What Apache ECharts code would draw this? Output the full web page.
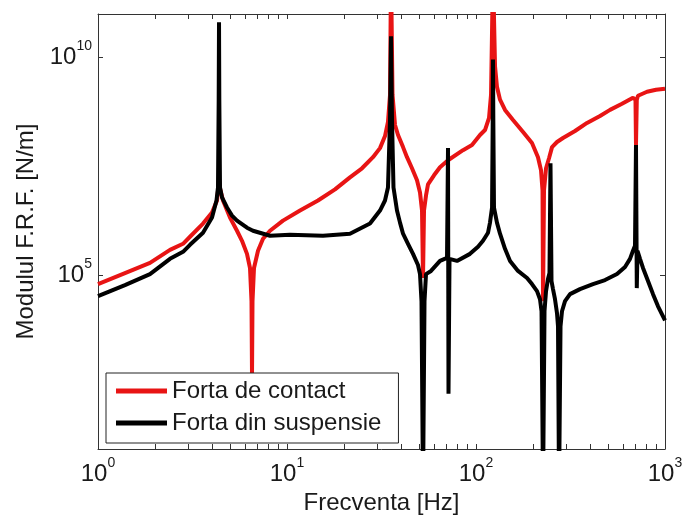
<!DOCTYPE html>
<html><head><meta charset="utf-8">
<script src="https://cdn.jsdelivr.net/npm/echarts@6/dist/echarts.min.js"></script>
<style>html,body{margin:0;padding:0;background:#fff}#c{width:683px;height:515px}</style>
</head><body><div id="c"></div>
<script>
const seriesNames = ['Forta de contact', 'Forta din suspensie'];
const seriesColors = ['#e81414', '#000000'];

const freqContact = [1.000, 1.389, 1.884, 2.404, 2.818, 3.067, 3.594, 4.011, 4.263, 4.342, 4.368, 4.421, 4.586, 4.993, 5.438, 5.780, 6.142, 6.371, 6.489, 6.529, 6.569, 6.690, 7.024, 7.465, 8.131, 9.524, 11.72, 14.59, 17.95, 21.54, 24.94, 28.51, 31.05, 33.00, 34.22, 35.08, 35.51, 36.16, 37.28, 38.68, 41.11, 43.14, 45.85, 48.74, 50.55, 51.80, 52.44, 53.08, 54.39, 55.72, 59.95, 64.50, 71.11, 85.35, 95.24, 105.0, 111.6, 117.2, 120.1, 123.0, 126.1, 129.1, 134.0, 142.4, 157.0, 177.4, 197.8, 212.8, 220.8, 224.9, 226.3, 229.0, 234.7, 243.4, 252.5, 268.3, 288.6, 334.1, 386.7, 453.0, 511.7, 592.3, 677.1, 698.0, 702.3, 709.2, 719.5, 803.3, 896.4, 1000];
const modContact = [6.19e4, 1.11e5, 1.90e5, 3.79e5, 5.22e5, 7.58e5, 1.52e6, 2.72e6, 5.16e6, 1.15e7, 1.67e7, 9.79e6, 5.16e6, 2.09e6, 1.04e6, 6.12e5, 3.06e5, 1.45e5, 2.50e4, 511, 2.50e4, 1.45e5, 3.60e5, 6.81e5, 1.04e6, 1.78e6, 3.03e6, 5.16e6, 9.29e6, 1.76e7, 2.84e7, 5.11e7, 8.26e7, 1.56e8, 3.30e8, 1.39e9, 1e12, 1.39e9, 2.81e8, 1.65e8, 8.71e7, 5.11e7, 2.84e7, 1.50e7, 7.91e6, 3.03e6, 8.53e4, 3.03e6, 6.74e6, 1.21e7, 1.96e7, 3.00e7, 4.35e7, 7.42e7, 9.68e7, 1.65e8, 2.15e8, 4.08e8, 1.39e9, 1e12, 6.19e9, 2.13e9, 1.07e9, 6.25e8, 3.67e8, 1.94e8, 1.08e8, 5.11e7, 2.55e7, 8.80e6, 2.50e4, 8.80e6, 2.84e7, 4.84e7, 8.71e7, 1.14e8, 1.41e8, 2.04e8, 3.13e8, 4.54e8, 6.25e8, 8.61e8, 1.19e9, 1.07e9, 9.68e7, 1.07e9, 1.32e9, 1.63e9, 1.82e9, 1.92e9];

const freqSusp = [1.000, 1.389, 1.884, 2.404, 2.818, 3.067, 3.594, 4.011, 4.236, 4.314, 4.351, 4.368, 4.384, 4.421, 4.530, 4.814, 5.117, 5.438, 6.142, 6.607, 8.131, 10.37, 15.50, 21.54, 27.49, 31.05, 33.00, 34.22, 35.08, 35.51, 35.94, 36.60, 38.19, 39.62, 41.11, 43.67, 46.42, 49.33, 50.55, 51.48, 52.44, 53.40, 54.39, 57.81, 64.50, 70.25, 71.11, 71.54, 72.42, 79.34, 92.96, 102.5, 108.9, 115.8, 118.6, 121.6, 122.6, 123.0, 123.5, 124.5, 129.1, 134.0, 142.4, 151.4, 166.8, 186.2, 197.8, 210.3, 218.1, 222.2, 226.3, 230.4, 234.7, 240.4, 244.8, 247.8, 250.9, 255.5, 261.8, 268.3, 271.6, 275.0, 280.0, 285.1, 295.8, 314.4, 355.0, 415.9, 481.6, 557.2, 614.3, 652.9, 677.1, 693.8, 702.3, 709.2, 715.2, 737.6, 764.9, 813.0, 864.2, 918.5, 1000];
const modSusp = [3.27e4, 5.87e4, 1.05e5, 2.35e5, 3.41e5, 4.94e5, 9.38e5, 2.09e6, 5.16e6, 1.03e7, 1.07e9, 6.46e10, 1.07e9, 1.03e7, 6.06e6, 3.56e6, 2.32e6, 1.78e6, 1.22e6, 1.04e6, 8.00e5, 8.43e5, 8.00e5, 8.89e5, 1.52e6, 3.03e6, 5.16e6, 1.03e7, 3.67e8, 3.06e10, 3.67e8, 1.03e7, 3.03e6, 1.60e6, 8.89e5, 5.22e5, 3.06e5, 1.70e5, 1.05e5, 2.50e4, 1, 2.50e4, 1.05e5, 1.24e5, 2.11e5, 2.48e5, 8.26e7, 186, 2.35e5, 2.11e5, 3.06e5, 4.45e5, 6.12e5, 9.38e5, 1.60e6, 3.56e6, 3.67e8, 9.0e9, 3.67e8, 3.56e6, 1.60e6, 8.89e5, 4.00e5, 2.11e5, 1.24e5, 8.53e4, 6.19e4, 4.27e4, 2.78e4, 1.47e4, 1, 1.47e4, 4.27e4, 8.08e4, 1.11e5, 3.71e7, 7.26e4, 4.74e4, 2.78e4, 1.32e4, 6.59e3, 1, 6.59e3, 1.47e4, 2.50e4, 3.63e4, 4.74e4, 6.19e4, 7.66e4, 1.05e5, 1.53e5, 2.35e5, 3.60e5, 4.69e5, 9.68e7, 5.00e4, 3.60e5, 2.35e5, 1.45e5, 7.26e4, 3.63e4, 1.91e4, 9.08e3];

const xTickValues = [1,2,3,4,5,6,7,8,9,10,20,30,40,50,60,70,80,90,100,200,300,400,500,600,700,800,900,1000];
const xLabelValues = [1, 10, 100, 1000];
const yTickValues = [1e5, 1e10];
const xTitle = 'Frecventa [Hz]';
const yTitle = 'Modulul F.R.F. [N/m]';

const FONT = '"Liberation Sans", Arial, sans-serif';
const AX = '#333';
const pair = (xs, ys) => xs.map((x, i) => [x, ys[i]]);
const powLabel = v => '{b|10}{s|' + Math.round(Math.log10(v)) + '}';
const rich = {
  b: {fontFamily: FONT, fontSize: 24, lineHeight: 36, color: '#1a1a1a'},
  s: {fontFamily: FONT, fontSize: 14, lineHeight: 14, verticalAlign: 'top', color: '#1a1a1a'}
};

function xAxisCfg(pos, showLabel) {
  return {
    type: 'log', logBase: 10, min: 1, max: 1000, position: pos,
    name: showLabel ? xTitle : '', nameLocation: 'middle', nameGap: 42,
    nameTextStyle: {fontFamily: FONT, fontSize: 24, color: '#1a1a1a'},
    axisLine: {show: true, onZero: false, lineStyle: {color: AX, width: 1}},
    axisTick: {show: true, inside: true, length: 5, customValues: xTickValues, lineStyle: {color: AX, width: 1}},
    axisLabel: {show: showLabel, margin: 7, customValues: xLabelValues, formatter: powLabel, rich: rich},
    splitLine: {show: false}, minorTick: {show: false}
  };
}
function yAxisCfg(pos, showLabel) {
  return {
    type: 'log', logBase: 10, min: 10, max: 1e11, position: pos,
    name: showLabel ? yTitle : '', nameLocation: 'middle', nameGap: 60,
    nameTextStyle: {fontFamily: FONT, fontSize: 24, color: '#1a1a1a'},
    axisLine: {show: true, onZero: false, lineStyle: {color: AX, width: 1}},
    axisTick: {show: true, inside: true, length: 5, customValues: yTickValues, lineStyle: {color: AX, width: 1}},
    axisLabel: {show: showLabel, margin: 6, customValues: yTickValues, formatter: powLabel, rich: rich},
    splitLine: {show: false}, minorTick: {show: false}
  };
}

const chart = echarts.init(document.getElementById('c'), null, {renderer: 'canvas'});
chart.setOption({
  animation: false,
  backgroundColor: '#fff',
  grid: {left: 98, right: 18, top: 14, bottom: 66, containLabel: false, outerBoundsMode: 'none'},
  xAxis: [xAxisCfg('bottom', true), xAxisCfg('top', false)],
  yAxis: [yAxisCfg('left', true), yAxisCfg('right', false)],
  legend: {
    orient: 'vertical', left: 106, top: 373,
    padding: [6, 17, 8, 10], itemGap: 8, itemWidth: 51, itemHeight: 5, icon: 'rect',
    backgroundColor: '#fff', borderColor: '#222', borderWidth: 1, borderRadius: 0,
    textStyle: {fontFamily: FONT, fontSize: 24, lineHeight: 24, color: '#1a1a1a'},
    data: seriesNames
  },
  series: [
    {name: seriesNames[0], type: 'line', color: seriesColors[0], data: pair(freqContact, modContact),
     showSymbol: false, symbol: 'none', clip: true, lineStyle: {width: 4, color: seriesColors[0], join: 'bevel'}, z: 2},
    {name: seriesNames[1], type: 'line', color: seriesColors[1], data: pair(freqSusp, modSusp),
     showSymbol: false, symbol: 'none', clip: true, lineStyle: {width: 4, color: seriesColors[1], join: 'bevel'}, z: 3}
  ]
});
</script></body></html>
